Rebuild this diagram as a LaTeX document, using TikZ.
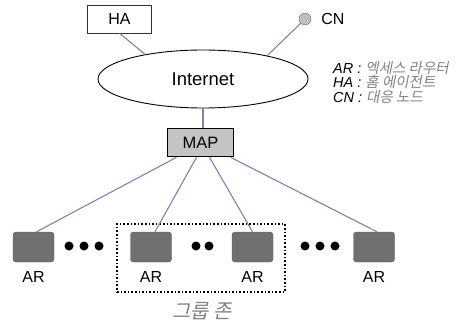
\documentclass[tikz,border=0pt]{standalone}
\usepackage{fontspec}
\setmainfont{Liberation Sans}
\newfontfamily\krfont[FakeSlant=0.2]{Noto Sans CJK KR}
\usetikzlibrary{positioning,shapes.geometric}
\definecolor{linkcol}{RGB}{128,128,178}
\definecolor{argray}{RGB}{112,112,112}
\definecolor{mapgray}{RGB}{196,196,196}
\definecolor{krgray}{RGB}{130,130,130}
\tikzset{
    habox/.style = {draw=black!80, fill=white, minimum width=64pt,
        minimum height=28pt, inner sep=0pt, font=\fontsize{16}{18}\selectfont},
    mapbox/.style = {draw, line width=1.6pt, fill=mapgray, minimum width=66pt,
        minimum height=28pt, inner sep=0pt, font=\fontsize{16.5}{18}\selectfont},
    arbox/.style = {draw=black!65, fill=argray, rounded corners=3pt,
        minimum width=41pt, minimum height=30pt, inner sep=0pt},
    cloud/.style = {draw, line width=0.9pt, ellipse, minimum width=210pt,
        minimum height=58pt, inner sep=0pt, font=\fontsize{18.5}{20}\selectfont},
    cnode/.style = {circle, draw=black!60, fill=black!25, minimum size=12pt, inner sep=0pt},
    link/.style = {draw=linkcol, line width=1.1pt},
    dotnode/.style = {circle, fill=black, minimum size=9pt, inner sep=0pt},
    zone/.style = {draw, dotted, line width=1.6pt, minimum width=168pt,
        minimum height=68pt, inner sep=0pt},
    lbl/.style = {inner sep=0pt, font=\fontsize{16}{18}\selectfont},
    legend/.style = {inner sep=0pt, anchor=north west, align=left,
        font=\fontsize{14.5}{14.5}\selectfont}
}

\begin{document}
\begin{tikzpicture}[x=1pt, y=-1pt]
    \useasboundingbox (0,0) rectangle (473,323);
    \node [cloud] (inet) at (203,79) {Internet};
    \node [habox] (ha) at (119.5,19) {HA};
    \node [cnode] (cn) at (305,19) {};
    \node [lbl, right=10pt of cn] (cnlbl) {CN};
    \node [mapbox] (map) at (200.5,142.5) {MAP};
    \draw [link] (ha.south) -- (inet.157);
    \draw [link] (cn.225) -- (inet.20);
    \draw [link] (inet.south) -- (inet.south |- map.north);

    \node [legend] (lg) at (333,61) {\itshape AR : {\krfont\color{krgray}엑세스 라우터}\\
        \itshape HA : {\krfont\color{krgray}홈 에이전트}\\
        \itshape CN : {\krfont\color{krgray}대응 노드}};

    \node [zone] (grp) at (201,258) {};
    \node [arbox] (ar1) at (33.5,247) {};
    \node [arbox] (ar2) at (151,247) {};
    \node [arbox] (ar3) at (252.5,247) {};
    \node [arbox] (ar4) at (374,247) {};
    \foreach \n in {1,...,4}
        \node [lbl, below=9pt of ar\n] (arl\n) {AR};
    \foreach \i/\x in {1/69,2/84,3/99,4/196,5/209,6/305,7/320,8/335}
        \node [dotnode] (d\i) at (\x,246) {};
    \node [inner sep=0pt, text=krgray, font=\krfont\fontsize{20}{22}\selectfont] (grplbl) at (202,311) {그룹 존};

    \draw [link] ([xshift=-24pt]map.south) -- ([xshift=3pt]ar1.north);
    \draw [link] ([xshift=-4pt]map.south) -- ([xshift=4pt]ar2.north);
    \draw [link] ([xshift=9pt]map.south) -- (ar3.north);
    \draw [link] ([xshift=30pt]map.south) -- ([xshift=3pt]ar4.north);
\end{tikzpicture}
\end{document}
